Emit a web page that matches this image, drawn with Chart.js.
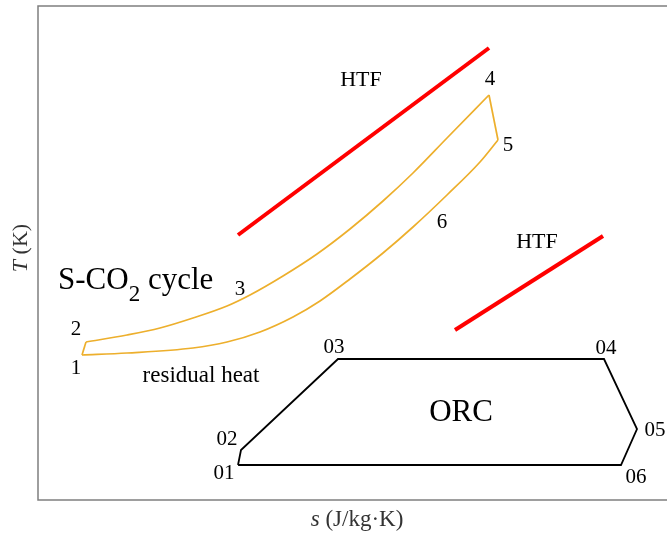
<!DOCTYPE html>
<html>
<head>
<meta charset="utf-8">
<script src="https://cdn.jsdelivr.net/npm/chart.js"></script>
<style>
  body { margin: 0; background: #fff; }
  #wrap { width: 667px; height: 537px; }
</style>
</head>
<body>
<div id="wrap"><canvas id="myChart" width="667" height="537"></canvas></div>
<script>
  // entropy s / temperature T, arbitrary units
  const upperS = [48, 89, 122, 155, 189, 212, 245, 279, 312, 345, 375, 409, 451];
  const upperT = [158, 165, 172, 182, 194, 205, 224, 246, 271, 299, 327, 362, 405];
  const lowerS = [44, 89, 155, 189, 222, 255, 282, 312, 345, 375, 409, 442, 460];
  const lowerT = [145, 147, 152, 158, 168, 183, 199, 221, 247, 273, 305, 338, 360];

  const htf1S = [200, 451];
  const htf1T = [265, 452];
  const htf2S = [417, 565];
  const htf2T = [170, 264];

  const orcLabels = ['01', '02', '03', '04', '05', '06'];
  const orcS = [200, 203, 300, 566, 599, 583];
  const orcT = [35, 50, 141, 141, 71, 35];

  const pts = (s, t) => s.map((v, i) => ({ x: v, y: t[i] }));

  const upper = pts(upperS, upperT);
  const lower = pts(lowerS, lowerT);
  const orc = pts(orcS, orcT);
  orc.push(orc[0]);

  const orange = '#EDAF2C';

  const data = {
    datasets: [
      { data: upper, borderColor: orange, borderWidth: 1.7, cubicInterpolationMode: 'monotone' },
      { data: lower, borderColor: orange, borderWidth: 1.7, cubicInterpolationMode: 'monotone' },
      { data: [lower[0], upper[0]], borderColor: orange, borderWidth: 1.7 },
      { data: [upper[upper.length - 1], lower[lower.length - 1]], borderColor: orange, borderWidth: 1.7 },
      { data: pts(htf1S, htf1T), borderColor: '#FF0000', borderWidth: 4 },
      { data: pts(htf2S, htf2T), borderColor: '#FF0000', borderWidth: 4 },
      { data: orc, borderColor: '#000000', borderWidth: 1.8 }
    ]
  };
  data.datasets.forEach(d => {
    d.showLine = true;
    d.pointRadius = 0;
    d.pointHoverRadius = 0;
    d.clip = false;
  });

  const serif = '"Liberation Serif", "Times New Roman", serif';

  // labels tied to points: text, point, pixel offset
  const pointNotes = [
    ['1', lower[0], -6, 13],
    ['2', upper[0], -10, -13],
    ['4', upper[upper.length - 1], 1, -16],
    ['5', lower[lower.length - 1], 10, 5],
    ...orcLabels.map((l, i) => [l, orc[i], [-14, -14, -4, 2, 18, 15][i], [8, -11, -12, -11, 1, 12][i]])
  ];
  // free labels: text, s, T, font size
  const notes = [
    ['3', 202, 211, 21],
    ['6', 404, 278, 21],
    ['HTF', 323, 420, 22],
    ['HTF', 499, 258, 22],
    ['residual heat', 163, 124, 23],
    ['ORC', 423, 87, 31]
  ];

  const textPlugin = {
    id: 'texts',
    beforeDatasetsDraw(chart) {
      const { ctx, chartArea: a } = chart;
      ctx.save();
      ctx.strokeStyle = '#7f7f7f';
      ctx.lineWidth = 1.5;
      ctx.beginPath();
      ctx.moveTo(chart.width, a.top);
      ctx.lineTo(a.left, a.top);
      ctx.lineTo(a.left, a.bottom);
      ctx.lineTo(chart.width, a.bottom);
      ctx.stroke();
      ctx.restore();
    },
    afterDatasetsDraw(chart) {
      const { ctx } = chart;
      const xs = chart.scales.x, ys = chart.scales.y;
      ctx.save();
      ctx.fillStyle = '#000';
      ctx.textAlign = 'center';
      ctx.textBaseline = 'middle';
      ctx.font = '21px ' + serif;
      pointNotes.forEach(([t, p, dx, dy]) => {
        ctx.fillText(t, xs.getPixelForValue(p.x) + dx, ys.getPixelForValue(p.y) + dy);
      });
      notes.forEach(([t, s, T, size]) => {
        ctx.font = size + 'px ' + serif;
        ctx.fillText(t, xs.getPixelForValue(s), ys.getPixelForValue(T));
      });

      // S-CO2 cycle, with subscript
      ctx.textAlign = 'left';
      ctx.textBaseline = 'alphabetic';
      let x = xs.getPixelForValue(20), y = ys.getPixelForValue(211);
      ctx.font = '31px ' + serif;
      ctx.fillText('S-CO', x, y);
      x += ctx.measureText('S-CO').width;
      ctx.font = '23px ' + serif;
      ctx.fillText('2', x, y + 12);
      x += ctx.measureText('2').width;
      ctx.font = '31px ' + serif;
      ctx.fillText(' cycle', x, y);

      // axis titles
      ctx.fillStyle = '#333333';
      ctx.textBaseline = 'middle';
      ctx.font = 'italic 23px ' + serif;
      const w1 = ctx.measureText('s').width;
      ctx.font = '23px ' + serif;
      const w2 = ctx.measureText(' (J/kg·K)').width;
      let bx = 357 - (w1 + w2) / 2;
      ctx.font = 'italic 23px ' + serif;
      ctx.fillText('s', bx, 520);
      ctx.font = '23px ' + serif;
      ctx.fillText(' (J/kg·K)', bx + w1, 520);

      ctx.translate(21, 248);
      ctx.rotate(-Math.PI / 2);
      ctx.font = 'italic 22px ' + serif;
      const t1 = ctx.measureText('T').width;
      ctx.font = '22px ' + serif;
      const t2 = ctx.measureText(' (K)').width;
      bx = -(t1 + t2) / 2;
      ctx.font = 'italic 22px ' + serif;
      ctx.fillText('T', bx, 0);
      ctx.font = '22px ' + serif;
      ctx.fillText(' (K)', bx + t1, 0);
      ctx.restore();
    }
  };

  const config = {
    type: 'scatter',
    data: data,
    options: {
      responsive: false,
      animation: false,
      layout: { padding: { left: 38, top: 6, right: 0, bottom: 37 } },
      scales: {
        x: { type: 'linear', display: false, min: 0, max: 629 },
        y: { type: 'linear', display: false, min: 0, max: 494 }
      },
      plugins: { legend: { display: false }, tooltip: { enabled: false } }
    },
    plugins: [textPlugin]
  };

  const myChart = new Chart(document.getElementById('myChart'), config);
</script>
</body>
</html>
